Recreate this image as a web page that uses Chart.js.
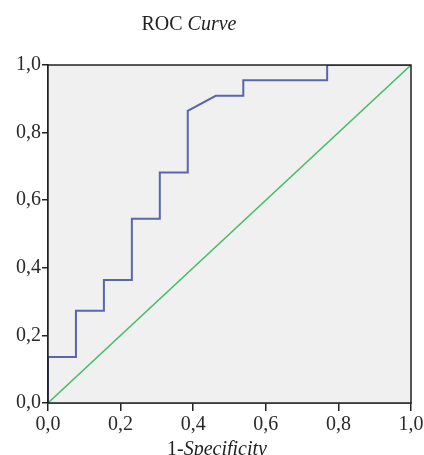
<!DOCTYPE html>
<html>
<head>
<meta charset="utf-8">
<script src="https://cdn.jsdelivr.net/npm/chart.js@4.4.1/dist/chart.umd.min.js"></script>
<style>
  html, body { margin: 0; padding: 0; background: #fff; }
  #wrap { position: relative; width: 424px; height: 455px; overflow: hidden; }
  canvas { position: absolute; left: 0; top: 0; }
  .lbl { position: absolute; font-family: 'Liberation Serif', 'Times New Roman', serif; color: #222; white-space: nowrap; }
  #title { left: 0; width: 378px; top: 12px; text-align: center; font-size: 20px; }
  #xtitle { left: 0; width: 434px; top: 437px; text-align: center; font-size: 20px; }
</style>
</head>
<body>
<div id="wrap">
  <canvas id="roc" width="424" height="455"></canvas>
  <div class="lbl" id="title">ROC <i>Curve</i></div>
  <div class="lbl" id="xtitle">1-<i>Specificity</i></div>
</div>
<script>
// ROC curve (1-specificity, sensitivity)
const falsePosRate = [0, 0, 0.077, 0.077, 0.154, 0.154, 0.231, 0.231, 0.308, 0.308, 0.385, 0.385, 0.462, 0.538, 0.538, 0.769, 0.769, 1];
const truePosRate  = [0, 0.136, 0.136, 0.273, 0.273, 0.364, 0.364, 0.545, 0.545, 0.682, 0.682, 0.864, 0.909, 0.909, 0.955, 0.955, 1, 1];
// reference line
const refX = [0, 1];
const refY = [0, 1];
const tickValues = [0, 0.2, 0.4, 0.6, 0.8, 1.0];

const fmt = v => Number(v).toFixed(1).replace('.', ',');

// gray plot area + frame
const plotFrame = {
  id: 'plotFrame',
  beforeDatasetsDraw(chart) {
    const { ctx, chartArea: a } = chart;
    ctx.save();
    ctx.fillStyle = '#f0f0f0';
    ctx.fillRect(a.left, a.top, a.right - a.left, a.bottom - a.top);
    ctx.restore();
  },
  afterDatasetsDraw(chart) {
    const { ctx, chartArea: a } = chart;
    ctx.save();
    ctx.strokeStyle = '#222';
    ctx.lineWidth = 1.5;
    ctx.strokeRect(a.left, a.top, a.right - a.left, a.bottom - a.top);
    ctx.restore();
  }
};

new Chart(document.getElementById('roc'), {
  type: 'scatter',
  data: {
    datasets: [
      {
        label: 'ROC',
        data: falsePosRate.map((x, i) => ({ x, y: truePosRate[i] })),
        showLine: true,
        borderColor: '#5766ad',
        borderWidth: 2,
        pointRadius: 0,
        tension: 0
      },
      {
        label: 'Reference',
        data: refX.map((x, i) => ({ x, y: refY[i] })),
        showLine: true,
        borderColor: '#45bd63',
        borderWidth: 1.5,
        pointRadius: 0
      }
    ]
  },
  options: {
    responsive: false,
    animation: false,
    layout: { padding: { top: 65, right: 13, left: 0, bottom: 0 } },
    plugins: { legend: { display: false }, tooltip: { enabled: false } },
    scales: {
      x: {
        type: 'linear', min: 0, max: 1,
        afterBuildTicks: s => { s.ticks = tickValues.map(v => ({ value: v })); },
        afterFit: s => { s.height = 52; s.paddingLeft = 0; s.paddingRight = 0; },
        grid: { drawOnChartArea: false, drawTicks: true, tickLength: 8, color: '#222', lineWidth: 1.5 },
        border: { display: true, color: '#222', width: 1.5 },
        ticks: {
          callback: v => fmt(v), padding: 2, maxRotation: 0,
          color: '#2a2a2a', font: { family: "'Liberation Serif', serif", size: 20 }
        }
      },
      y: {
        type: 'linear', min: 0, max: 1,
        afterBuildTicks: s => { s.ticks = tickValues.map(v => ({ value: v })); },
        afterFit: s => { s.width = 48; s.paddingTop = 0; s.paddingBottom = 0; },
        grid: { drawOnChartArea: false, drawTicks: true, tickLength: 6, color: '#222', lineWidth: 1.5 },
        border: { display: true, color: '#222', width: 1.5 },
        ticks: {
          callback: v => fmt(v), padding: 1,
          color: '#2a2a2a', font: { family: "'Liberation Serif', serif", size: 20 }
        }
      }
    }
  },
  plugins: [plotFrame]
});
</script>
</body>
</html>
